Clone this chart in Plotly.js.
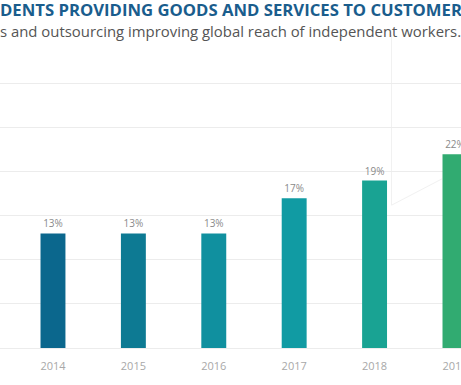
<!DOCTYPE html>
<html>
<head>
<meta charset="utf-8">
<script src="https://cdn.plot.ly/plotly-3.0.1.min.js"></script>
<style>
  html, body { margin: 0; padding: 0; background: #ffffff; }
  #chart { width: 461px; height: 385px; }
</style>
</head>
<body>
<div id="chart"></div>
<script>
// ---- data ----
const years = ['2014', '2015', '2016', '2017', '2018', '2019'];
const sharePct = [13, 13, 13, 17, 19, 22];
const valueLabels = ['13%', '13%', '13%', '17%', '19%', '22%'];
const titleText = 'DENTS PROVIDING GOODS AND SERVICES TO CUSTOMERS';
const subtitleText = 's and outsourcing improving global reach of independent workers.';

// ---- styling ----
const barColors = ['#0b678d', '#0d7a93', '#10909f', '#119ba3', '#19a393', '#31ab71'];

const trace = {
  type: 'bar',
  x: years,
  y: sharePct,
  text: valueLabels,
  textposition: 'outside',
  cliponaxis: true,
  textfont: { family: 'Open Sans, sans-serif', size: 10, color: '#8a8a8a' },
  marker: { color: barColors, line: { width: 0 } },
  hoverinfo: 'skip'
};

const layout = {
  width: 461,
  height: 385,
  margin: { l: 0, r: 0, t: 66, b: 37, pad: 0 },
  paper_bgcolor: '#ffffff',
  plot_bgcolor: '#ffffff',
  showlegend: false,
  bargap: 0.69,
  xaxis: {
    type: 'category',
    range: [-0.659, 5.075],
    showgrid: false,
    zeroline: false,
    showline: true,
    linecolor: '#ececec',
    linewidth: 1,
    ticks: '',
    ticklen: 0,
    ticklabelstandoff: 8,
    tickfont: { family: 'Open Sans, sans-serif', size: 11, color: '#a8a8a8' },
    fixedrange: true
  },
  yaxis: {
    range: [0, 32],
    dtick: 5,
    tick0: 0,
    showticklabels: false,
    showgrid: true,
    gridcolor: '#ececec',
    gridwidth: 1,
    zeroline: false,
    showline: false,
    ticks: '',
    fixedrange: true
  },
  shapes: [
    { type: 'line', xref: 'x', yref: 'paper', x0: 4.21, x1: 4.21, y0: 0.507, y1: 1.11,
      line: { color: '#f1f1f1', width: 1 }, layer: 'below' },
    { type: 'line', xref: 'x', yref: 'y', x0: 4.21, x1: 4.84, y0: 16.2, y1: 19.2,
      line: { color: '#f1f1f1', width: 1 }, layer: 'below' }
  ],
  annotations: [
    { text: '<b>' + titleText + '</b>', xref: 'paper', yref: 'paper', x: -0.004, y: 1.199,
      xanchor: 'left', yanchor: 'middle', showarrow: false,
      font: { family: 'Open Sans, sans-serif', size: 16.7, weight: 800, color: '#1a5d8d' } },
    { text: subtitleText, xref: 'paper', yref: 'paper', x: -0.004, y: 1.125,
      xanchor: 'left', yanchor: 'middle', showarrow: false,
      font: { family: 'Open Sans, sans-serif', size: 14.9, color: '#555555' } }
  ]
};

Plotly.newPlot('chart', [trace], layout, { displayModeBar: false, staticPlot: true });
</script>
</body>
</html>
